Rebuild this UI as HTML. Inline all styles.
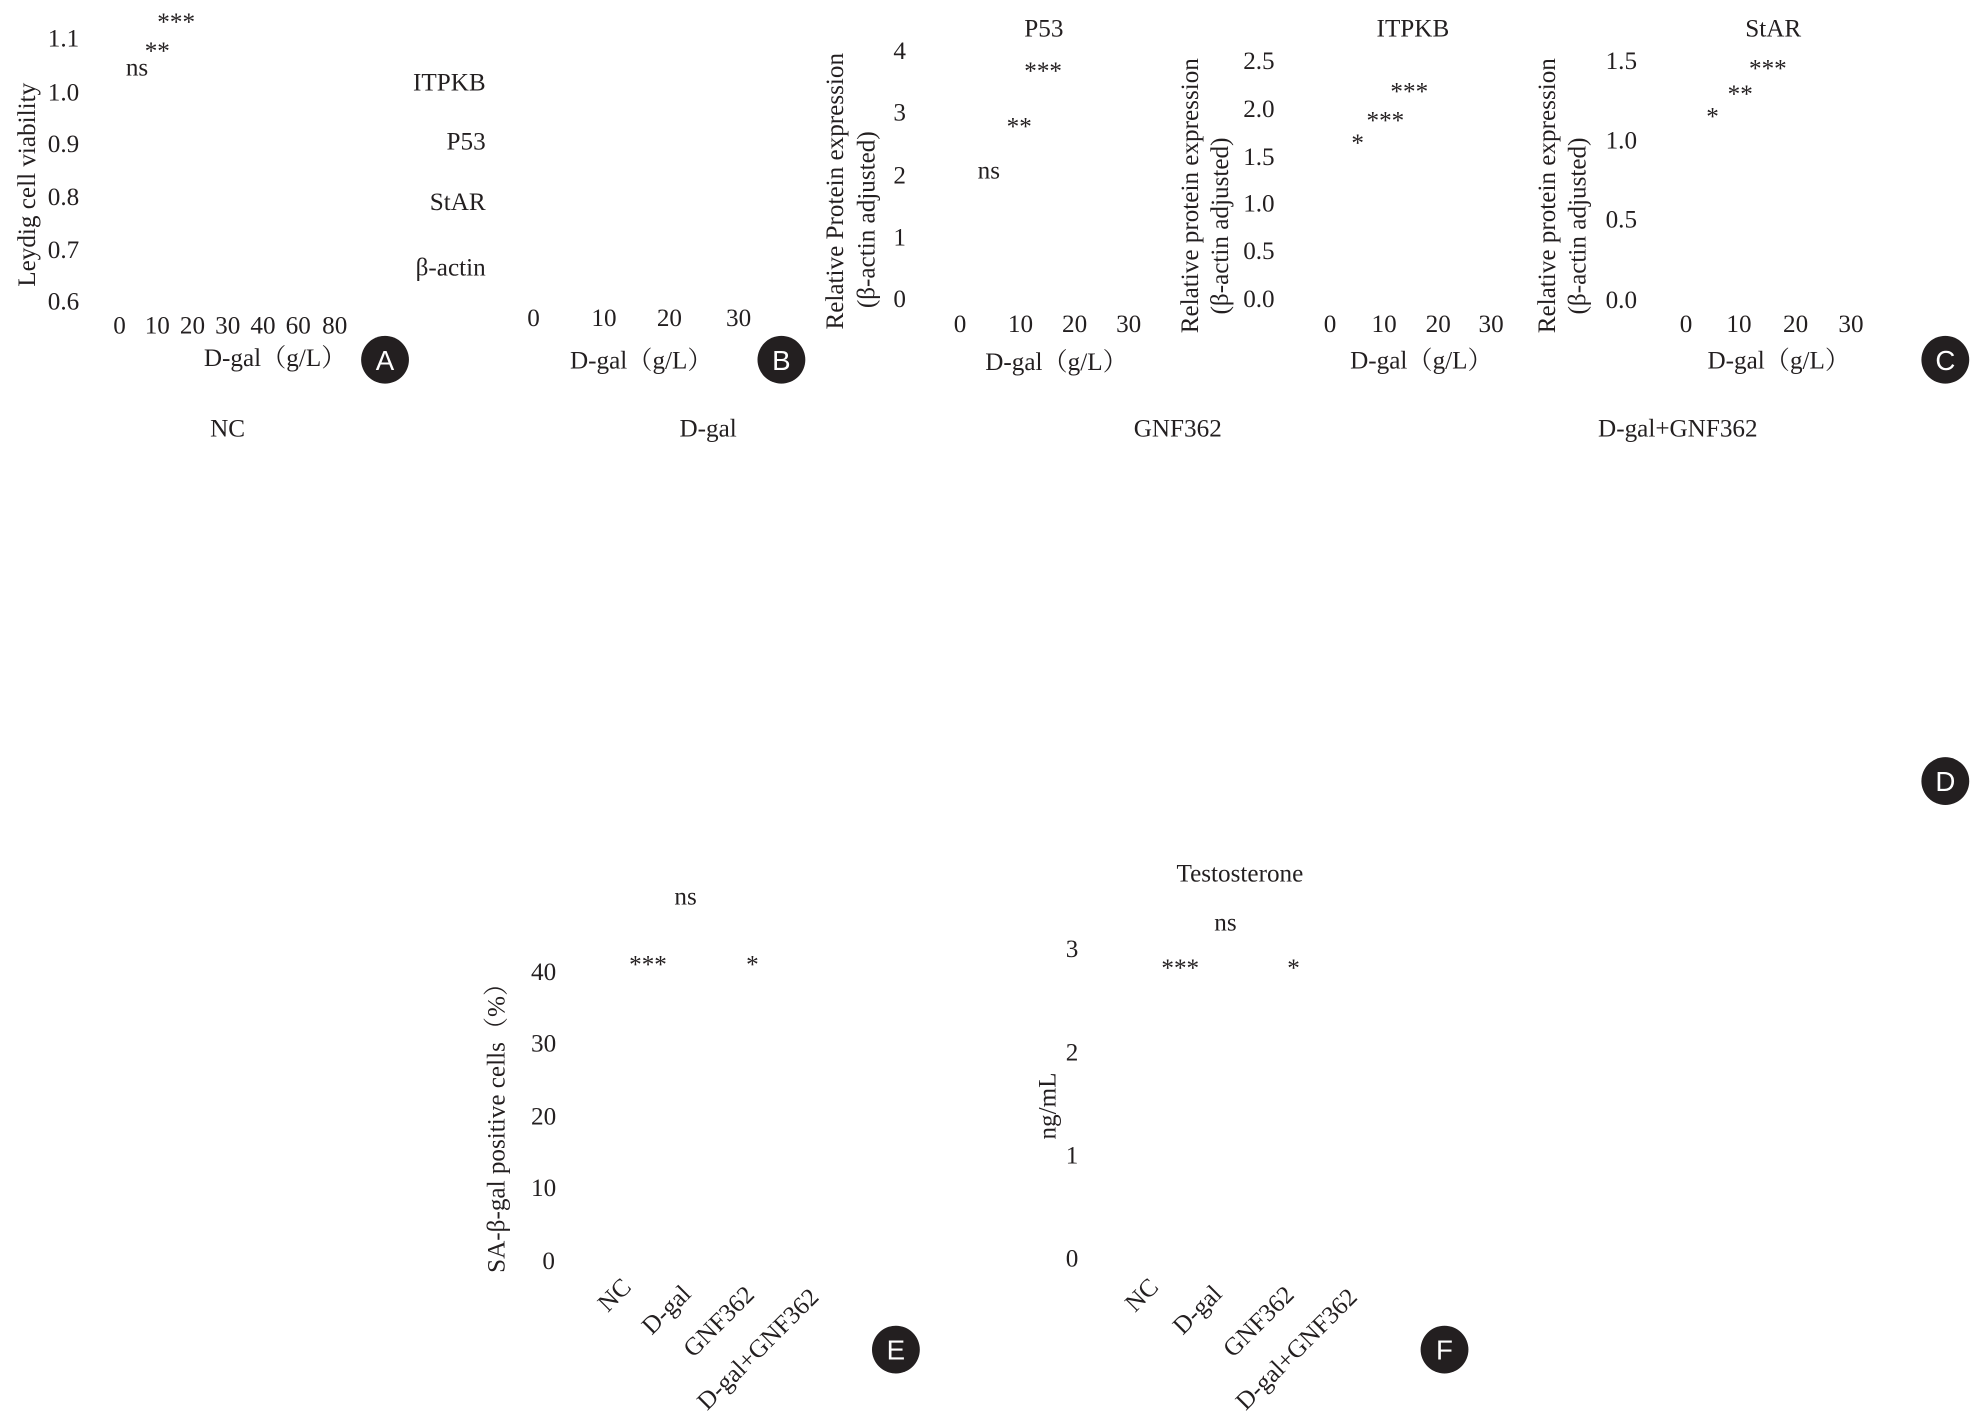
<!DOCTYPE html>
<html><head><meta charset="utf-8"><style>
html,body{margin:0;padding:0;background:#fff}
svg{display:block}
text{font-family:"Liberation Serif","Noto Serif CJK SC",serif;fill:#231f20;font-size:20px}
.c{fill:#231f20}
.w{fill:#fff;font-family:"Liberation Sans",sans-serif;font-size:22px}
</style></head><body>
<svg width="1973" height="1415" viewBox="0 0 1568 1125" preserveAspectRatio="none" xmlns="http://www.w3.org/2000/svg">
<!-- A -->
<text x="38" y="37">1.1</text><text x="38" y="80">1.0</text><text x="38" y="121">0.9</text><text x="38" y="163">0.8</text><text x="38" y="205">0.7</text><text x="38" y="246">0.6</text>
<text transform="translate(28,228) rotate(-90)" font-size="19">Leydig cell viability</text>
<text x="125" y="24">***</text><text x="115" y="47">**</text><text x="100" y="60">ns</text>
<text x="90" y="265">0</text><text x="115" y="265">10</text><text x="143" y="265">20</text><text x="171" y="265">30</text><text x="199" y="265">40</text><text x="227" y="265">60</text><text x="256" y="265">80</text>
<text x="162" y="291">D-gal（g/L）</text>
<circle class="c" cx="306" cy="286" r="19"/><text class="w" x="306" y="294" text-anchor="middle">A</text>
<!-- Western labels -->
<text x="386" y="72" text-anchor="end">ITPKB</text><text x="386" y="119" text-anchor="end">P53</text><text x="386" y="167" text-anchor="end">StAR</text><text x="386" y="219" text-anchor="end">β-actin</text>
<text x="419" y="259">0</text><text x="470" y="259">10</text><text x="522" y="259">20</text><text x="577" y="259">30</text>
<text x="453" y="293">D-gal（g/L）</text>
<circle class="c" cx="621" cy="286" r="19"/><text class="w" x="621" y="294" text-anchor="middle">B</text>
<!-- C1 -->
<text x="814" y="29">P53</text>
<text transform="translate(670,262) rotate(-90)" font-size="19">Relative Protein expression</text>
<text transform="translate(695,245) rotate(-90)" font-size="19">(β-actin adjusted)</text>
<text x="710" y="47">4</text><text x="710" y="96">3</text><text x="710" y="146">2</text><text x="710" y="195">1</text><text x="710" y="244">0</text>
<text x="814" y="63">***</text><text x="800" y="107">**</text><text x="777" y="142">ns</text>
<text x="758" y="264">0</text><text x="801" y="264">10</text><text x="844" y="264">20</text><text x="887" y="264">30</text>
<text x="783" y="294">D-gal（g/L）</text>
<!-- C2 -->
<text x="1094" y="29">ITPKB</text>
<text transform="translate(952,265) rotate(-90)" font-size="19">Relative protein expression</text>
<text transform="translate(976,250) rotate(-90)" font-size="19">(β-actin adjusted)</text>
<text x="988" y="55">2.5</text><text x="988" y="93">2.0</text><text x="988" y="131">1.5</text><text x="988" y="168">1.0</text><text x="988" y="206">0.5</text><text x="988" y="244">0.0</text>
<text x="1105" y="79">***</text><text x="1086" y="102">***</text><text x="1074" y="120">*</text>
<text x="1052" y="264">0</text><text x="1090" y="264">10</text><text x="1133" y="264">20</text><text x="1175" y="264">30</text>
<text x="1073" y="293">D-gal（g/L）</text>
<!-- C3 -->
<text x="1387" y="29">StAR</text>
<text transform="translate(1236,265) rotate(-90)" font-size="19">Relative protein expression</text>
<text transform="translate(1260,250) rotate(-90)" font-size="19">(β-actin adjusted)</text>
<text x="1276" y="55">1.5</text><text x="1276" y="118">1.0</text><text x="1276" y="181">0.5</text><text x="1276" y="245">0.0</text>
<text x="1390" y="61">***</text><text x="1373" y="81">**</text><text x="1356" y="99">*</text>
<text x="1335" y="264">0</text><text x="1372" y="264">10</text><text x="1417" y="264">20</text><text x="1461" y="264">30</text>
<text x="1357" y="293">D-gal（g/L）</text>
<circle class="c" cx="1546" cy="286" r="19"/><text class="w" x="1546" y="294" text-anchor="middle">C</text>
<!-- D -->
<text x="167" y="347">NC</text><text x="540" y="347">D-gal</text><text x="901" y="347">GNF362</text><text x="1270" y="347">D-gal+GNF362</text>
<circle class="c" cx="1546" cy="621" r="19"/><text class="w" x="1546" y="629" text-anchor="middle">D</text>
<!-- E -->
<text x="536" y="719">ns</text><text x="500" y="773">***</text><text x="593" y="773">*</text>
<text x="422" y="779">40</text><text x="422" y="836">30</text><text x="422" y="894">20</text><text x="422" y="951">10</text><text x="431" y="1009">0</text>
<text transform="translate(401,1012) rotate(-90)" font-size="19">SA-β-gal positive cells（%）</text>
<text transform="translate(483,1044) rotate(-45)">NC</text>
<text transform="translate(518,1062) rotate(-45)">D-gal</text>
<text transform="translate(551,1080) rotate(-45)">GNF362</text>
<text transform="translate(562,1122) rotate(-45)">D-gal+GNF362</text>
<circle class="c" cx="712" cy="1073" r="19"/><text class="w" x="712" y="1081" text-anchor="middle">E</text>
<!-- F -->
<text x="935" y="701">Testosterone</text>
<text x="965" y="740">ns</text><text x="923" y="776">***</text><text x="1023" y="776">*</text>
<text x="847" y="761">3</text><text x="847" y="843">2</text><text x="847" y="925">1</text><text x="847" y="1007">0</text>
<text transform="translate(839,906) rotate(-90)" font-size="19">ng/mL</text>
<text transform="translate(902,1044) rotate(-45)">NC</text>
<text transform="translate(940,1062) rotate(-45)">D-gal</text>
<text transform="translate(980,1080) rotate(-45)">GNF362</text>
<text transform="translate(990,1122) rotate(-45)">D-gal+GNF362</text>
<circle class="c" cx="1148" cy="1073" r="19"/><text class="w" x="1148" y="1081" text-anchor="middle">F</text>
</svg>
</body></html>
